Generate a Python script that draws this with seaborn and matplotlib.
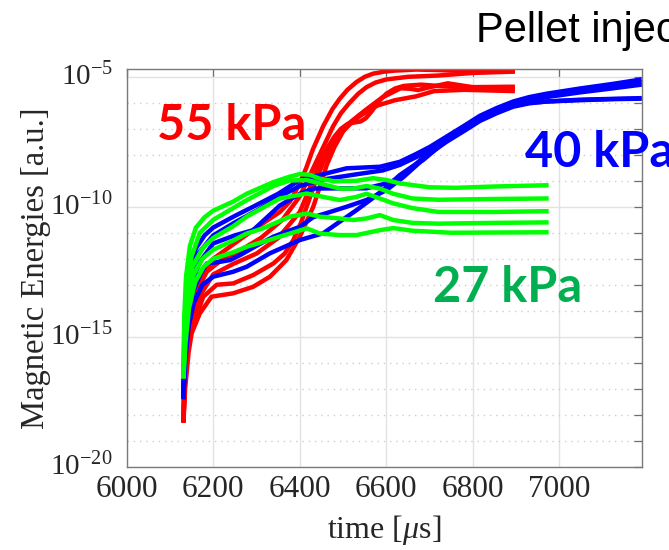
import numpy as np
import pandas as pd
import matplotlib
matplotlib.use("Agg")
import matplotlib.pyplot as plt
import seaborn as sns
from matplotlib.ticker import FixedLocator, NullFormatter, NullLocator, FuncFormatter

# ---- simulation runs: time [us] and log10(magnetic energy) ----
# 55 kPa
t_55a = [6131, 6132, 6135, 6140, 6150, 6170, 6200, 6250, 6300, 6354, 6377, 6400, 6415, 6430, 6454, 6475, 6492, 6510, 6531, 6550, 6569, 6595, 6620, 6669, 6720, 6800, 6897]
e_55a = [-18.3, -17.0, -15.5, -14.4, -13.6, -12.7, -12.0, -11.4, -10.8, -10.2, -9.8, -9.1, -8.5, -7.8, -6.9, -6.25, -5.85, -5.5, -5.2, -5.0, -4.88, -4.8, -4.76, -4.72, -4.74, -4.79, -4.77]
t_55b = [6131, 6133, 6137, 6145, 6160, 6185, 6215, 6260, 6310, 6360, 6400, 6420, 6440, 6460, 6477, 6495, 6515, 6535, 6554, 6575, 6600, 6650, 6720, 6800, 6897]
e_55b = [-18.3, -16.8, -15.3, -14.2, -13.3, -12.5, -12.1, -11.7, -11.2, -10.5, -9.6, -8.9, -8.2, -7.5, -6.9, -6.4, -6.0, -5.65, -5.4, -5.22, -5.1, -5.0, -4.95, -4.85, -4.8]
t_55c = [6131, 6134, 6140, 6150, 6170, 6200, 6246, 6300, 6350, 6400, 6425, 6446, 6465, 6480, 6495, 6510, 6525, 6540, 6552, 6565, 6582, 6600, 6620, 6640, 6680, 6720, 6780, 6897]
e_55c = [-18.3, -16.8, -15.2, -14.3, -13.4, -12.6, -12.2, -11.8, -11.2, -10.2, -9.2, -8.3, -7.7, -7.3, -7.0, -6.82, -6.76, -6.72, -6.6, -6.35, -5.95, -5.65, -5.45, -5.35, -5.3, -5.35, -5.4, -5.38]
t_55d = [6131, 6135, 6142, 6152, 6177, 6208, 6246, 6292, 6339, 6365, 6385, 6403, 6420, 6437, 6454, 6472, 6490, 6505, 6520, 6550, 6590, 6633, 6655, 6673, 6700, 6742, 6800, 6897]
e_55d = [-18.3, -16.6, -15.4, -14.6, -13.46, -13.0, -12.95, -12.63, -12.18, -11.8, -11.28, -10.6, -9.8, -9.0, -8.3, -7.7, -7.2, -6.9, -6.7, -6.3, -5.8, -5.44, -5.46, -5.51, -5.4, -5.25, -5.4, -5.45]
t_55e = [6131, 6135, 6143, 6150, 6169, 6196, 6246, 6292, 6331, 6369, 6400, 6415, 6431, 6447, 6462, 6480, 6500, 6520, 6540, 6560, 6580, 6620, 6669, 6710, 6780, 6897]
e_55e = [-18.3, -17.0, -15.6, -14.87, -14.1, -13.46, -13.33, -13.08, -12.69, -12.05, -11.15, -10.6, -10.0, -9.2, -8.4, -7.7, -7.1, -6.75, -6.5, -6.28, -6.1, -5.9, -5.75, -5.55, -5.5, -5.55]

# 40 kPa
t_40a = [6131, 6133, 6137, 6145, 6160, 6180, 6200, 6250, 6292, 6350, 6400, 6446, 6508, 6585, 6631, 6665, 6700, 6739, 6780, 6816, 6855, 6893, 6930, 6970, 7047, 7120, 7190]
e_40a = [-17.4, -15.2, -13.6, -12.4, -11.6, -11.1, -10.8, -10.35, -10.0, -9.5, -8.97, -8.78, -8.52, -8.46, -8.27, -8.0, -7.7, -7.3, -6.88, -6.5, -6.2, -5.95, -5.78, -5.65, -5.45, -5.28, -5.1]
t_40b = [6131, 6133, 6138, 6147, 6165, 6200, 6250, 6300, 6354, 6400, 6454, 6531, 6592, 6631, 6665, 6700, 6739, 6780, 6816, 6855, 6893, 6930, 6970, 7047, 7120, 7190]
e_40b = [-17.4, -15.5, -13.9, -12.6, -11.8, -11.1, -10.6, -10.15, -9.6, -9.2, -8.95, -8.75, -8.6, -8.39, -8.12, -7.85, -7.45, -7.0, -6.6, -6.28, -6.0, -5.84, -5.72, -5.52, -5.38, -5.22]
t_40c = [6131, 6134, 6140, 6150, 6170, 6200, 6250, 6292, 6354, 6400, 6431, 6492, 6554, 6600, 6631, 6665, 6700, 6739, 6780, 6816, 6855, 6893, 6930, 6970, 7047, 7120, 7190]
e_40c = [-17.4, -15.6, -14.0, -12.9, -12.1, -11.41, -11.1, -10.9, -9.95, -9.5, -9.3, -9.29, -9.29, -9.1, -8.9, -8.4, -7.9, -7.4, -6.95, -6.55, -6.28, -6.05, -5.9, -5.78, -5.6, -5.45, -5.3]
t_40d = [6131, 6134, 6142, 6155, 6170, 6185, 6215, 6239, 6262, 6300, 6339, 6400, 6431, 6470, 6508, 6554, 6600, 6640, 6670, 6700, 6739, 6780, 6816, 6855, 6893, 6930, 6970, 7047, 7120, 7190]
e_40d = [-17.4, -15.8, -14.2, -13.2, -12.6, -12.18, -12.12, -12.05, -11.86, -11.5, -11.15, -10.77, -10.4, -10.2, -10.0, -9.74, -9.36, -8.85, -8.4, -7.95, -7.5, -7.08, -6.7, -6.4, -6.15, -6.02, -5.95, -5.88, -5.85, -5.82]
t_40e = [6131, 6135, 6143, 6155, 6175, 6200, 6246, 6277, 6331, 6400, 6454, 6490, 6531, 6562, 6592, 6631, 6660, 6685, 6710, 6739, 6780, 6816, 6855, 6893, 6930, 6970, 7047, 7120, 7190]
e_40e = [-17.4, -16.0, -14.6, -13.7, -13.0, -12.69, -12.5, -12.31, -11.79, -11.28, -11.02, -10.6, -10.13, -9.75, -9.36, -8.78, -8.45, -8.2, -7.85, -7.45, -7.05, -6.65, -6.35, -6.1, -6.0, -5.95, -5.9, -5.86, -5.84]

# 27 kPa
t_27a = [6131, 6133, 6137, 6146, 6160, 6180, 6200, 6246, 6277, 6339, 6375, 6400, 6423, 6446, 6480, 6531, 6569, 6600, 6631, 6700, 6760, 6850, 6975]
e_27a = [-16.6, -14.2, -12.7, -11.5, -10.8, -10.4, -10.15, -9.8, -9.5, -9.05, -8.85, -8.74, -8.77, -8.92, -9.02, -9.0, -8.9, -8.97, -9.1, -9.25, -9.27, -9.22, -9.17]
t_27b = [6131, 6133, 6138, 6150, 6169, 6200, 6246, 6277, 6339, 6377, 6416, 6446, 6492, 6523, 6554, 6585, 6616, 6660, 6720, 6850, 6975]
e_27b = [-16.6, -14.6, -13.1, -11.9, -11.0, -10.5, -10.05, -9.75, -9.2, -8.99, -8.97, -9.1, -9.3, -9.3, -9.2, -9.3, -9.5, -9.68, -9.73, -9.7, -9.68]
t_27c = [6131, 6134, 6140, 6152, 6175, 6200, 6246, 6277, 6354, 6416, 6454, 6492, 6531, 6554, 6585, 6616, 6660, 6720, 6850, 6975]
e_27c = [-16.6, -14.8, -13.3, -12.3, -11.6, -11.2, -10.75, -10.38, -9.68, -9.49, -9.62, -9.74, -9.62, -9.5, -9.68, -9.87, -10.05, -10.2, -10.2, -10.17]
t_27d = [6131, 6135, 6142, 6155, 6175, 6200, 6246, 6277, 6315, 6377, 6416, 6446, 6492, 6523, 6554, 6585, 6616, 6660, 6720, 6850, 6975]
e_27d = [-16.6, -15.0, -13.6, -12.6, -12.0, -11.65, -11.3, -11.03, -10.83, -10.38, -10.26, -10.38, -10.45, -10.51, -10.45, -10.32, -10.51, -10.62, -10.65, -10.62, -10.6]
t_27e = [6131, 6136, 6144, 6158, 6178, 6200, 6246, 6277, 6315, 6377, 6416, 6446, 6492, 6531, 6585, 6616, 6660, 6750, 6850, 6975]
e_27e = [-16.6, -15.2, -13.9, -12.9, -12.3, -12.0, -11.75, -11.54, -11.35, -11.03, -10.83, -11.03, -11.09, -11.09, -10.9, -10.82, -10.92, -11.0, -10.99, -10.98]

xticks = [6000, 6200, 6400, 6600, 6800, 7000]
ydecades_labeled = [-20, -15, -10, -5]

groups = [
    ("55 kPa", "#ff0000", [(t_55a, e_55a), (t_55b, e_55b), (t_55c, e_55c), (t_55d, e_55d), (t_55e, e_55e)]),
    ("40 kPa", "#0000ff", [(t_40a, e_40a), (t_40b, e_40b), (t_40c, e_40c), (t_40d, e_40d), (t_40e, e_40e)]),
    ("27 kPa", "#00ff00", [(t_27a, e_27a), (t_27b, e_27b), (t_27c, e_27c), (t_27d, e_27d), (t_27e, e_27e)]),
]

sns.set_theme(style="white")
plt.rcParams["font.family"] = ["Liberation Serif", "DejaVu Serif"]
plt.rcParams["mathtext.fontset"] = "custom"
plt.rcParams["mathtext.rm"] = "Liberation Serif"
plt.rcParams["mathtext.it"] = "Liberation Serif:italic"

fig = plt.figure(figsize=(6.69, 5.5), dpi=100)
ax = fig.add_axes([0.1894, 0.1515, 0.7698, 0.723])

for label, color, runs in groups:
    frames = []
    for i, (t, e) in enumerate(runs):
        frames.append(pd.DataFrame({"time": t, "energy": np.power(10.0, e), "run": f"{label} #{i}"}))
    df = pd.concat(frames, ignore_index=True)
    names = df["run"].unique()
    sns.lineplot(data=df, x="time", y="energy", hue="run", palette={n: color for n in names},
                 estimator=None, sort=False, legend=False, linewidth=3.2, ax=ax)

for ln in ax.get_lines():
    ln.set_solid_capstyle("butt")
    ln.set_solid_joinstyle("round")

ax.set_yscale("log")
ax.set_xlim(6000, 7190)
ax.set_ylim(1e-20, 10 ** -4.7)

ax.xaxis.set_major_locator(FixedLocator(xticks))
ax.xaxis.set_minor_locator(NullLocator())
ax.yaxis.set_major_locator(FixedLocator([10.0 ** k for k in ydecades_labeled]))
ax.yaxis.set_minor_locator(FixedLocator([10.0 ** k for k in range(-19, -4) if k % 5]))
ax.yaxis.set_major_formatter(FuncFormatter(lambda v, p: r"$\mathregular{10^{%d}}$" % round(np.log10(v))))
ax.yaxis.set_minor_formatter(NullFormatter())

ax.grid(which="major", axis="both", color="#e2e2e2", linewidth=1.0, linestyle="-")
ax.grid(which="minor", axis="y", color="#cdcdcd", linewidth=1.0, linestyle=(0, (1, 3.5)))
ax.set_axisbelow(True)

ax.tick_params(which="both", direction="in", top=True, right=True, color="#6f6f6f",
               length=6, width=0.9)
ax.tick_params(axis="x", labelsize=22.5, pad=6, labelcolor="#262626")
ax.tick_params(axis="y", labelsize=21, pad=10, labelcolor="#262626")
for lab in ax.get_yticklabels():
    lab.set_verticalalignment("center")

for s in ax.spines.values():
    s.set_color("#7a7a7a")
    s.set_linewidth(1.0)

ax.set_xlabel(r"time [$\mathit{\mu}$s]", fontsize=23, color="#262626")
ax.xaxis.set_label_coords(0.5, -0.116)
ax.set_ylabel("Magnetic Energies [a.u.]", fontsize=23.5, color="#262626")
ax.yaxis.set_label_coords(-0.147, 0.5)

fig.text(0.711, 0.924, "Pellet injection", fontsize=30, family="Liberation Sans",
         color="black", ha="left", va="baseline")
fig.text(157 / 669, 1 - 140 / 550, "55 kPa", fontsize=35, family="Lato", fontweight="bold",
         color="#ff0000", ha="left", va="baseline")
fig.text(525 / 669, 1 - 166.7 / 550, "40 kPa", fontsize=35, family="Lato", fontweight="bold",
         color="#0000ff", ha="left", va="baseline")
fig.text(433 / 669, 1 - 302 / 550, "27 kPa", fontsize=35, family="Lato", fontweight="bold",
         color="#00b050", ha="left", va="baseline")

fig.savefig("out.png", dpi=100)
